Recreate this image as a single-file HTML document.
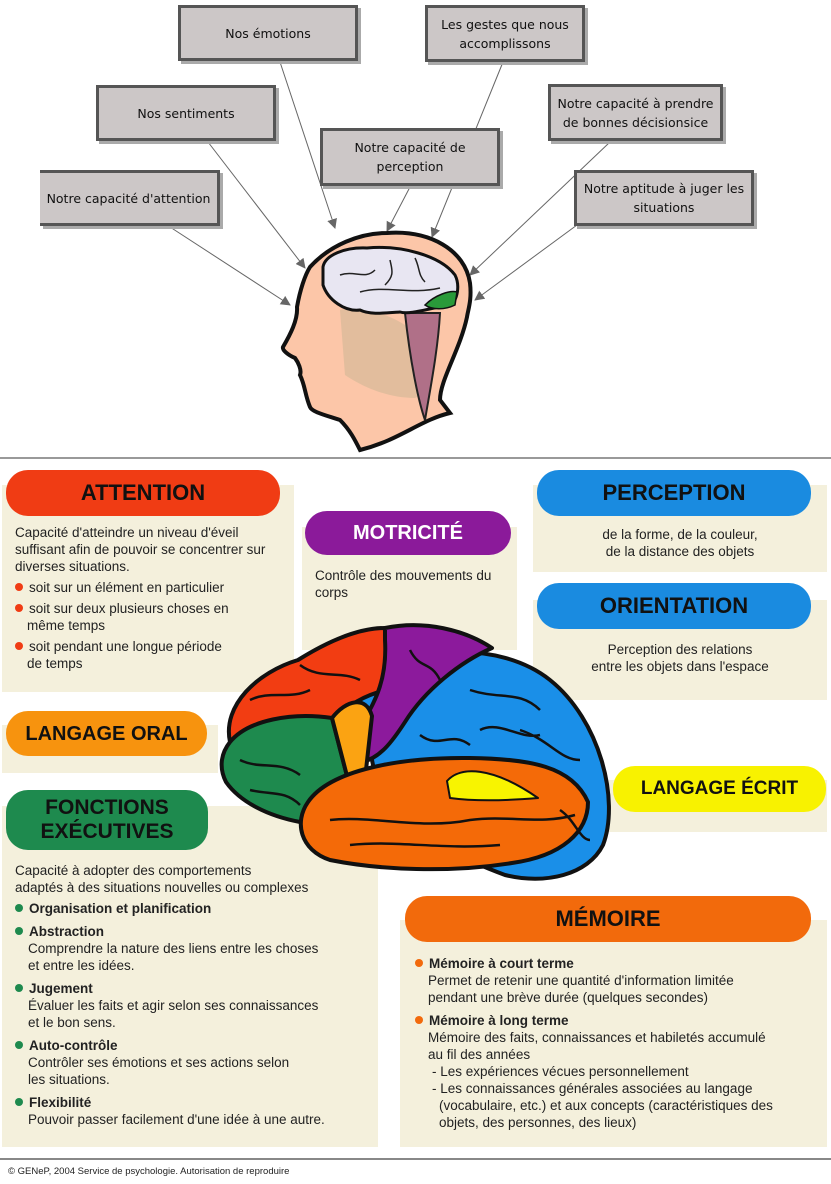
<!DOCTYPE html>
<html><head><meta charset="utf-8"><style>
body{margin:0;width:831px;height:1184px;background:#fff;position:relative;overflow:hidden;font-family:"Liberation Sans",sans-serif;}
.gb{position:absolute;background:#ccc7c7;border:3px solid #555;box-shadow:3px 3px 0 #aaa;font-family:"DejaVu Sans","Liberation Sans",sans-serif;font-size:12.5px;color:#111;display:flex;align-items:center;justify-content:center;text-align:center;line-height:19px;box-sizing:border-box;}
.pan{position:absolute;background:#f4f0dc;}
.pill{position:absolute;border-radius:22px;display:flex;align-items:center;justify-content:center;font-weight:bold;font-size:22px;color:#111;text-align:center;line-height:24px;}
.t{position:absolute;font-size:13.5px;line-height:17px;color:#222;}
.dot{display:inline-block;width:8px;height:8px;border-radius:50%;margin-right:6px;vertical-align:1px;}
</style></head><body>
<svg width="831" height="460" style="position:absolute;left:0;top:0">
<defs><marker id="a" markerWidth="10" markerHeight="10" refX="9" refY="5" orient="auto" markerUnits="userSpaceOnUse"><path d="M0,0 L10,5 L0,10 z" fill="#666"/></marker></defs>
<g stroke="#666" stroke-width="1" marker-end="url(#a)">
<line x1="280" y1="62" x2="335" y2="228"/>
<line x1="503" y1="62" x2="432" y2="237"/>
<line x1="208" y1="142" x2="305" y2="268"/>
<line x1="410" y1="187" x2="387" y2="231"/>
<line x1="610" y1="142" x2="470" y2="275"/>
<line x1="577" y1="225" x2="475" y2="300"/>
<line x1="170" y1="227" x2="290" y2="305"/>
</g>
<path d="M387,233 C430,230 465,250 470,283 C472,300 468,310 467,317 C460,350 440,380 440,400 L450,413 C420,420 400,440 360,450 C355,440 350,430 340,420 C325,415 312,412 310,407 C305,395 305,385 300,375 C302,370 298,362 295,358 C288,355 282,350 283,347 C290,335 298,320 297,307 C300,290 305,275 310,267 C330,245 360,233 387,233 Z" fill="#fcc6a8" stroke="#111" stroke-width="4"/>
<path d="M340,310 C370,305 410,320 425,345 C440,370 430,390 415,398 C385,398 360,385 345,375 Z" fill="#d7b998" opacity="0.7"/>
<path d="M405,313 L440,313 C438,350 430,390 425,420 C418,400 410,360 405,313 Z" fill="#b07088" stroke="#222" stroke-width="2"/>
<path d="M323,267 C325,255 345,247 367,248 C400,245 440,255 455,275 C460,285 458,300 450,305 C430,308 410,315 400,312 C385,313 370,315 360,310 C345,312 328,300 323,285 Z" fill="#e8e6f2" stroke="#111" stroke-width="3"/>
<path d="M425,305 C435,295 450,290 457,292 L455,305 C445,310 432,310 425,305 Z" fill="#2a9a3a" stroke="#111" stroke-width="1.5"/>
<g stroke="#222" stroke-width="1.5" fill="none"><path d="M340,275 C355,270 365,280 375,270"/><path d="M360,292 C385,285 410,295 440,288"/><path d="M390,260 C392,270 395,275 385,285"/><path d="M415,258 C420,268 418,275 425,282"/></g>
<line x1="0" y1="458" x2="831" y2="458" stroke="#999" stroke-width="2"/>
</svg>
<div class="gb" style="left:178px;top:5px;width:180px;height:56px">Nos émotions</div>
<div class="gb" style="left:425px;top:5px;width:160px;height:57px">Les gestes que nous<br>accomplissons</div>
<div class="gb" style="left:96px;top:85px;width:180px;height:56px">Nos sentiments</div>
<div class="gb" style="left:320px;top:128px;width:180px;height:58px">Notre capacité de<br>perception</div>
<div class="gb" style="left:548px;top:84px;width:175px;height:57px">Notre capacité à prendre<br>de bonnes décisionsice</div>
<div class="gb" style="left:574px;top:170px;width:180px;height:56px">Notre aptitude à juger les<br>situations</div>
<div class="gb" style="left:40px;top:170px;width:180px;height:56px;border-left:none">Notre capacité d'attention</div>

<div class="pan" style="left:2px;top:485px;width:292px;height:207px"></div>
<div class="pan" style="left:302px;top:527px;width:215px;height:123px"></div>
<div class="pan" style="left:533px;top:485px;width:294px;height:87px"></div>
<div class="pan" style="left:533px;top:600px;width:294px;height:100px"></div>
<div class="pan" style="left:2px;top:725px;width:216px;height:48px"></div>
<div class="pan" style="left:2px;top:806px;width:376px;height:341px"></div>
<div class="pan" style="left:606px;top:780px;width:221px;height:52px"></div>
<div class="pan" style="left:400px;top:920px;width:427px;height:227px"></div>

<div class="pill" style="left:6px;top:470px;width:274px;height:46px;background:#f03c14">ATTENTION</div>
<div class="pill" style="left:305px;top:511px;width:206px;height:44px;background:#8b1a9a;color:#fff;font-size:20px">MOTRICITÉ</div>
<div class="pill" style="left:537px;top:470px;width:274px;height:46px;background:#1a8be0">PERCEPTION</div>
<div class="pill" style="left:537px;top:583px;width:274px;height:46px;background:#1a8be0">ORIENTATION</div>
<div class="pill" style="left:6px;top:711px;width:201px;height:45px;background:#f7930e;font-size:20px">LANGAGE ORAL</div>
<div class="pill" style="left:6px;top:790px;width:202px;height:60px;background:#1e8a4e;font-size:21px">FONCTIONS<br>EXÉCUTIVES</div>
<div class="pill" style="left:613px;top:766px;width:213px;height:46px;background:#f8f200;font-size:19px">LANGAGE ÉCRIT</div>
<div class="pill" style="left:405px;top:896px;width:406px;height:46px;background:#f26a0c">MÉMOIRE</div>

<div class="t" style="left:15px;top:524px;width:275px">Capacité d'atteindre un niveau d'éveil suffisant afin de pouvoir se concentrer sur diverses situations.<br>
<div style="margin-top:4px"><span class="dot" style="background:#f03c14"></span>soit sur un élément en particulier</div>
<div style="margin-top:4px"><span class="dot" style="background:#f03c14"></span>soit sur deux plusieurs choses en<br><span style="padding-left:12px">même temps</span></div>
<div style="margin-top:4px"><span class="dot" style="background:#f03c14"></span>soit pendant une longue période<br><span style="padding-left:12px">de temps</span></div></div>
<div class="t" style="left:315px;top:567px;width:200px">Contrôle des mouvements du corps</div>
<div class="t" style="left:533px;top:526px;width:294px;text-align:center">de la forme, de la couleur,<br>de la distance des objets</div>
<div class="t" style="left:533px;top:641px;width:294px;text-align:center">Perception des relations<br>entre les objets dans l'espace</div>

<div class="t" style="left:15px;top:862px;width:360px">Capacité à adopter des comportements<br>adaptés à des situations nouvelles ou complexes
<div style="margin-top:4px"><span class="dot" style="background:#1e8a4e"></span><b>Organisation et planification</b></div>
<div style="margin-top:6px"><span class="dot" style="background:#1e8a4e"></span><b>Abstraction</b><br><span style="padding-left:13px">Comprendre la nature des liens entre les choses</span><br><span style="padding-left:13px">et entre les idées.</span></div>
<div style="margin-top:6px"><span class="dot" style="background:#1e8a4e"></span><b>Jugement</b><br><span style="padding-left:13px">Évaluer les faits et agir selon ses connaissances</span><br><span style="padding-left:13px">et le bon sens.</span></div>
<div style="margin-top:6px"><span class="dot" style="background:#1e8a4e"></span><b>Auto-contrôle</b><br><span style="padding-left:13px">Contrôler ses émotions et ses actions selon</span><br><span style="padding-left:13px">les situations.</span></div>
<div style="margin-top:6px"><span class="dot" style="background:#1e8a4e"></span><b>Flexibilité</b><br><span style="padding-left:13px">Pouvoir passer facilement d'une idée à une autre.</span></div></div>

<div class="t" style="left:415px;top:955px;width:410px">
<div><span class="dot" style="background:#f26a0c"></span><b>Mémoire à court terme</b><br><span style="padding-left:13px">Permet de retenir une quantité d'information limitée</span><br><span style="padding-left:13px">pendant une brève durée (quelques secondes)</span></div>
<div style="margin-top:6px"><span class="dot" style="background:#f26a0c"></span><b>Mémoire à long terme</b><br><span style="padding-left:13px">Mémoire des faits, connaissances et habiletés accumulé</span><br><span style="padding-left:13px">au fil des années</span><br><span style="padding-left:17px">- Les expériences vécues personnellement</span><br><span style="padding-left:17px">- Les connaissances générales associées au langage</span><br><span style="padding-left:24px">(vocabulaire, etc.) et aux concepts (caractéristiques des</span><br><span style="padding-left:24px">objets, des personnes, des lieux)</span></div></div>

<svg width="831" height="1184" style="position:absolute;left:0;top:0;pointer-events:none">
<g stroke="#111" stroke-width="4" stroke-linejoin="round">
<path d="M360,700 C400,640 500,640 550,680 C600,720 620,800 603,845 C588,875 545,885 505,875 C470,862 420,840 380,800 Z" fill="#1a8fe8"/>
<path d="M230,742 C222,705 258,672 298,660 C330,640 360,628 385,628 L390,690 C372,692 352,702 332,720 C300,718 262,724 240,760 Z" fill="#f23d12"/>
<path d="M385,628 C425,620 465,630 492,648 C460,662 425,690 405,722 C392,742 380,758 362,762 L354,740 C366,712 388,692 385,640 Z" fill="#8c1a9c"/>
<path d="M230,742 C248,720 292,712 332,718 L347,776 C322,792 310,810 300,822 C268,816 240,802 226,782 C218,766 222,752 230,742 Z" fill="#1e8a4e"/>
<path d="M332,718 C346,700 366,695 372,716 L366,770 C358,775 352,776 347,776 Z" fill="#fba312"/>
<path d="M308,802 C330,770 400,757 470,758 C530,759 572,766 588,802 C588,832 562,856 512,863 C450,873 380,870 330,860 C300,850 294,822 308,802 Z" fill="#f46a08"/>
<path d="M447,781 C460,766 492,766 538,798 C502,801 472,801 450,798 Z" fill="#f8f400" stroke-width="2"/>
</g>
<g stroke="#111" stroke-width="2.5" fill="none">
<path d="M250,700 C270,690 290,700 310,690"/><path d="M300,665 C320,680 340,670 360,680"/><path d="M410,650 C420,670 430,660 440,680"/><path d="M470,690 C500,700 520,690 540,710"/><path d="M520,730 C550,740 560,760 580,760"/><path d="M480,730 C500,720 520,740 540,735"/><path d="M560,810 C575,820 580,840 590,840"/><path d="M240,760 C260,770 280,760 300,775"/><path d="M250,790 C270,795 285,790 300,805"/><path d="M330,820 C370,815 420,830 470,820 C510,815 540,825 575,815"/><path d="M350,845 C400,840 440,850 500,845"/><path d="M420,735 C440,750 450,730 470,745"/>
</g>
<line x1="0" y1="1159" x2="831" y2="1159" stroke="#888" stroke-width="2"/>
</svg>
<div style="position:absolute;left:8px;top:1166px;font-size:9.5px;color:#222">© GENeP, 2004 Service de psychologie. Autorisation de reproduire</div>
</body></html>
